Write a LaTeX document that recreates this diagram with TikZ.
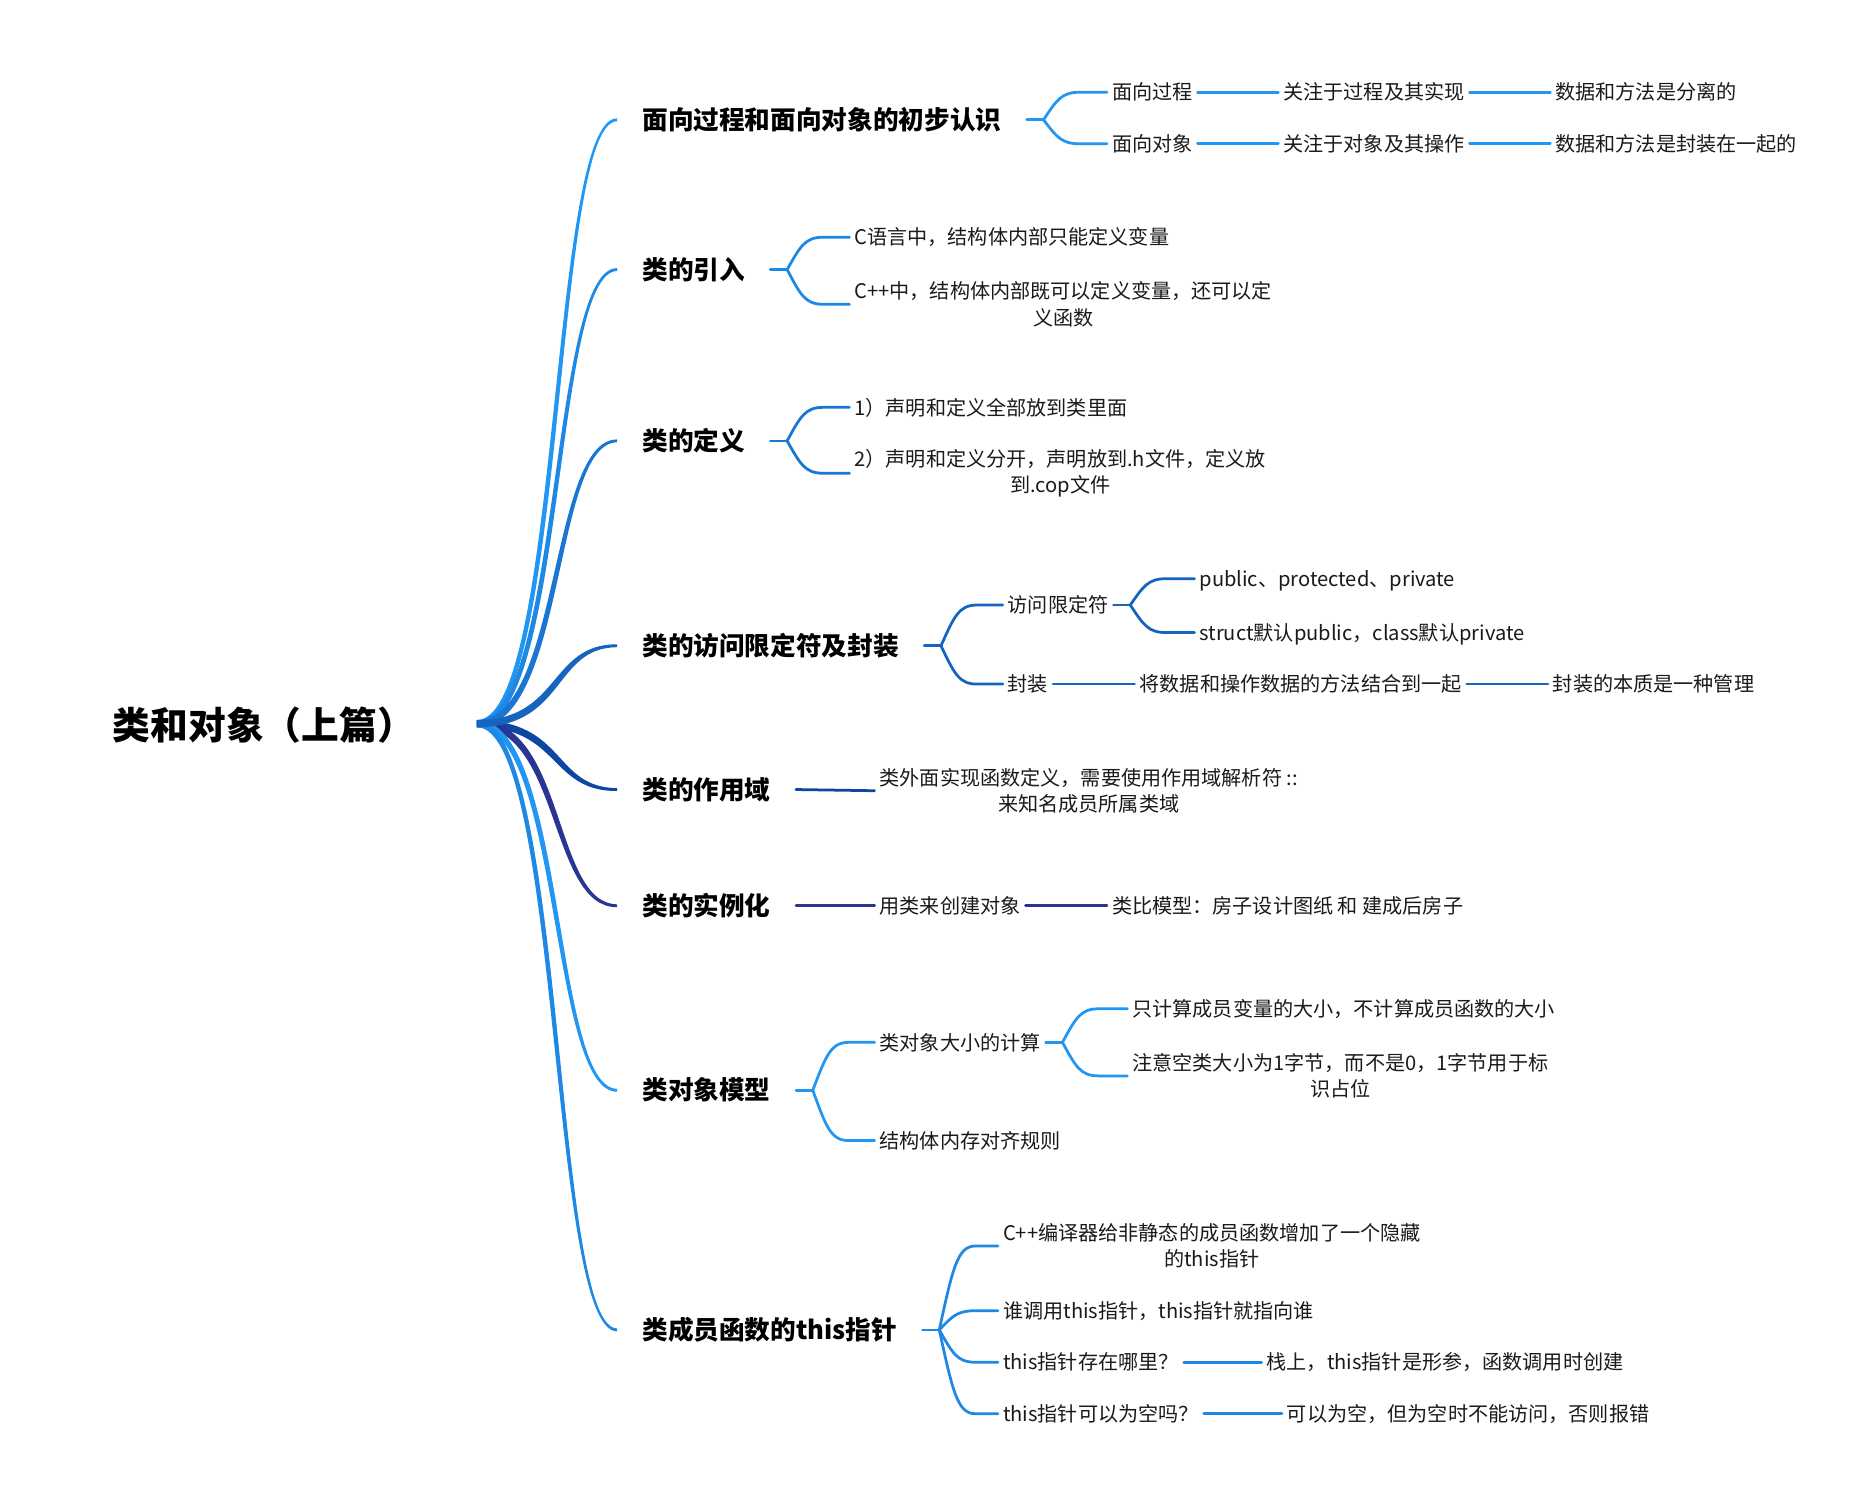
\documentclass[tikz,border=0pt]{standalone}
\usepackage{fontspec}
\setmainfont{Noto Sans CJK SC}
\usetikzlibrary{calc}
\definecolor{bA}{HTML}{2196F3}
\definecolor{bB}{HTML}{1E88E5}
\definecolor{bC}{HTML}{1976D2}
\definecolor{bD}{HTML}{1565C0}
\definecolor{bE}{HTML}{0D47A1}
\definecolor{bF}{HTML}{283593}
\definecolor{txt}{HTML}{1A1A1A}
% tapered main branch: colour, heading node, sign (1 = up, -1 = down)
\newcommand\mainbranch[3]{%
  \fill[#1] ($(root)+(0,{#3*3})$) .. controls ($(root)+({72-2.6},{#3*2.6})$) and ($(#2.west)+({-55-1.6},{#3*1.6})$) .. ($(#2.west)+(0,{#3*1.2})$)
    -- ($(#2.west)+(0,{-#3*1.2})$) .. controls ($(#2.west)+({-55+1.6},{-#3*1.6})$) and ($(root)+({72+2.6},{-#3*2.6})$) .. ($(root)+(0,{-#3*3})$) -- cycle;}
% fork connector: colour, fork coordinate, child node
\newcommand\forkto[3]{%
  \draw[conn,#1] let \p1=(#2), \p2=(#3.west) in (\p1) .. controls ({\x1+11pt},{\y1+0.72*(\y2-\y1)}) and ({\x1+15pt},\y2) .. ({\x1+30pt},\y2) -- (\p2);}
\begin{document}
\begin{tikzpicture}[x=1pt,y=1pt,
  head/.style={anchor=west, inner xsep=21pt, inner ysep=0pt, font=\bfseries\fontsize{21.4}{26}\selectfont, text=black, text height=18.8pt, text depth=2.6pt},
  leaf/.style={anchor=west, inner xsep=4pt, inner ysep=0pt, font=\fontsize{16.8}{22}\selectfont, text=txt, text height=14.8pt, text depth=2pt},
  leaftwo/.style={anchor=west, inner xsep=4pt, inner ysep=0pt, font=\fontsize{16.8}{22}\selectfont, text=txt, align=center},
  conn/.style={line width=2.3pt, line cap=round},
]
\useasboundingbox (0,0) rectangle (1560,-1252);
\fill[white] (0,0) rectangle (1560,-1252);

% title
\node[anchor=west, inner sep=0pt, font=\bfseries\fontsize{31.5}{36}\selectfont, text height=27.7pt, text depth=3.8pt] (t) at (94,-605) {类和对象（上篇）};
\coordinate (root) at (398,-604);

% headings
\node[head] (h1) at (515,-100) {面向过程和面向对象的初步认识};
\node[head] (h2) at (515,-225) {类的引入};
\node[head] (h3) at (515,-368) {类的定义};
\node[head] (h4) at (515,-539) {类的访问限定符及封装};
\node[head] (h5) at (515,-659) {类的作用域};
\node[head] (h6) at (515,-756) {类的实例化};
\node[head] (h7) at (515,-910) {类对象模型};
\node[head] (h8) at (515,-1110) {类成员函数的this指针};

% main branches
\mainbranch{bE}{h5}{-1}
\mainbranch{bF}{h6}{-1}
\mainbranch{bA}{h7}{-1}
\mainbranch{bB}{h8}{-1}
\mainbranch{bA}{h1}{1}
\mainbranch{bB}{h2}{1}
\mainbranch{bC}{h3}{1}
\mainbranch{bD}{h4}{1}

% ---- branch 1
\node[leaf] (c11) at (924,-77) {面向过程};
\node[leaf] (c12) at (1067,-77) {关注于过程及其实现};
\node[leaf] (c13) at (1294,-77) {数据和方法是分离的};
\node[leaf] (c14) at (924,-120) {面向对象};
\node[leaf] (c15) at (1067,-120) {关注于对象及其操作};
\node[leaf] (c16) at (1294,-120) {数据和方法是封装在一起的};
\coordinate (f1) at ($(h1.east)+(14,0)$);
\draw[conn,bA] (h1.east) -- (f1);
\forkto{bA}{f1}{c11}
\forkto{bA}{f1}{c14}
\draw[conn,bA] (c11.east) -- (c12.west);
\draw[conn,bA] (c12.east) -- (c13.west);
\draw[conn,bA] (c14.east) -- (c15.west);
\draw[conn,bA] (c15.east) -- (c16.west);

% ---- branch 2
\node[leaf] (c21) at (709,-198) {C语言中，结构体内部只能定义变量};
\node[leaftwo] (c22) at (709,-254) {C++中，结构体内部既可以定义变量，还可以定\\义函数};
\coordinate (f2) at ($(h2.east)+(14,0)$);
\draw[conn,bB] (h2.east) -- (f2);
\forkto{bB}{f2}{c21}
\forkto{bB}{f2}{c22}

% ---- branch 3
\node[leaf] (c31) at (709,-340) {1）声明和定义全部放到类里面};
\node[leaftwo] (c32) at (709,-395) {2）声明和定义分开，声明放到.h文件，定义放\\到.cop文件};
\coordinate (f3) at ($(h3.east)+(14,0)$);
\draw[conn,bC] (h3.east) -- (f3);
\forkto{bC}{f3}{c31}
\forkto{bC}{f3}{c32}

% ---- branch 4
\node[leaf] (c41) at (837,-505) {访问限定符};
\node[leaf] (c42) at (837,-571) {封装};
\node[leaf] (c43) at (997,-483) {public、protected、private};
\node[leaf] (c44) at (997,-528) {struct默认public，class默认private};
\node[leaf] (c45) at (947,-571) {将数据和操作数据的方法结合到一起};
\node[leaf] (c46) at (1292,-571) {封装的本质是一种管理};
\coordinate (f4) at ($(h4.east)+(14,0)$);
\draw[conn,bD] (h4.east) -- (f4);
\forkto{bD}{f4}{c41}
\forkto{bD}{f4}{c42}
\coordinate (f41) at ($(c41.east)+(14,0)$);
\draw[conn,bD] (c41.east) -- (f41);
\forkto{bD}{f41}{c43}
\forkto{bD}{f41}{c44}
\draw[conn,bD] (c42.east) -- (c45.west);
\draw[conn,bD] (c45.east) -- (c46.west);

% ---- branch 5
\node[leaftwo] (c51) at (730,-660) {类外面实现函数定义，需要使用作用域解析符 ::\\来知名成员所属类域};
\draw[conn,bE] (h5.east) -- (c51.west);

% ---- branch 6
\node[leaf] (c61) at (730,-756) {用类来创建对象};
\node[leaf] (c62) at (924,-756) {类比模型：房子设计图纸 和 建成后房子};
\draw[conn,bF] (h6.east) -- (c61.west);
\draw[conn,bF] (c61.east) -- (c62.west);

% ---- branch 7
\node[leaf] (c71) at (730,-870) {类对象大小的计算};
\node[leaf] (c72) at (730,-952) {结构体内存对齐规则};
\node[leaf] (c73) at (941,-842) {只计算成员变量的大小，不计算成员函数的大小};
\node[leaftwo] (c74) at (941,-898) {注意空类大小为1字节，而不是0，1字节用于标\\识占位};
\coordinate (f7) at ($(h7.east)+(14,0)$);
\draw[conn,bA] (h7.east) -- (f7);
\forkto{bA}{f7}{c71}
\forkto{bA}{f7}{c72}
\coordinate (f71) at ($(c71.east)+(14,0)$);
\draw[conn,bA] (c71.east) -- (f71);
\forkto{bA}{f71}{c73}
\forkto{bA}{f71}{c74}

% ---- branch 8
\node[leaftwo] (c81) at (833,-1040) {C++编译器给非静态的成员函数增加了一个隐藏\\的this指针};
\node[leaf] (c82) at (833,-1094) {谁调用this指针，this指针就指向谁};
\node[leaf] (c83) at (833,-1137) {this指针存在哪里？};
\node[leaf] (c84) at (1053,-1137) {栈上，this指针是形参，函数调用时创建};
\node[leaf] (c85) at (833,-1180) {this指针可以为空吗？};
\node[leaf] (c86) at (1070,-1180) {可以为空，但为空时不能访问，否则报错};
\coordinate (f8) at ($(h8.east)+(14,0)$);
\draw[conn,bB] (h8.east) -- (f8);
\forkto{bB}{f8}{c81}
\forkto{bB}{f8}{c82}
\forkto{bB}{f8}{c83}
\forkto{bB}{f8}{c85}
\draw[conn,bB] (c83.east) -- (c84.west);
\draw[conn,bB] (c85.east) -- (c86.west);
\end{tikzpicture}
\end{document}
